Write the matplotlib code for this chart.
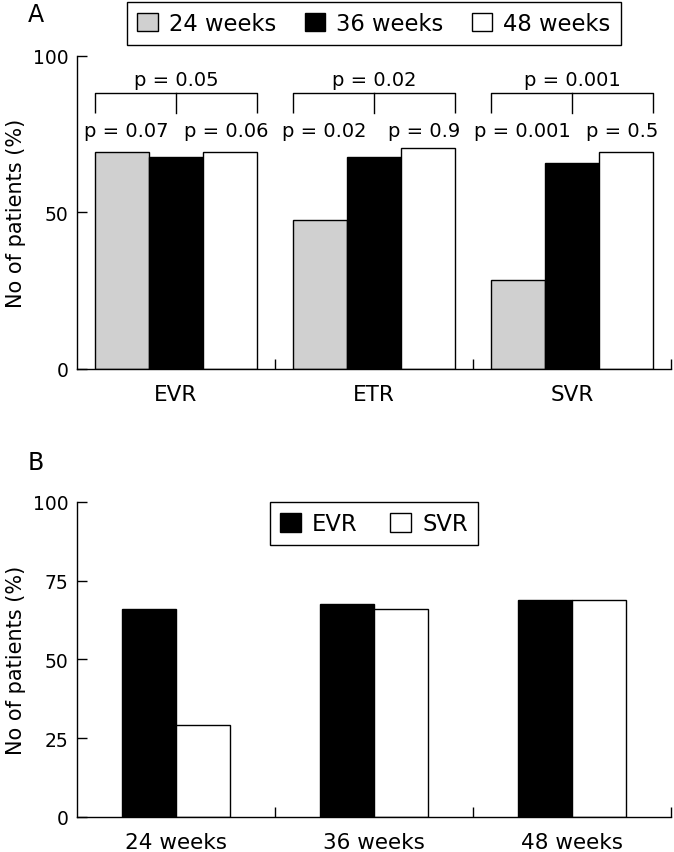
import matplotlib
matplotlib.use("Agg")
import matplotlib.pyplot as plt
import numpy as np
from matplotlib.patches import Patch

plt.rcParams['font.family'] = ['DejaVu Sans']

# ---------------- data ----------------
categories_A = ['EVR', 'ETR', 'SVR']
series_A_labels = ['24 weeks', '36 weeks', '48 weeks']
w24 = [69.1, 47.5, 28.3]
w36 = [67.7, 67.7, 65.8]
w48 = [69.1, 70.6, 69.1]
p_overall = ['p = 0.05', 'p = 0.02', 'p = 0.001']
p_24_36 = ['p = 0.07', 'p = 0.02', 'p = 0.001']
p_36_48 = ['p = 0.06', 'p = 0.9', 'p = 0.5']
yticks_A = [0, 50, 100]

categories_B = ['24 weeks', '36 weeks', '48 weeks']
series_B_labels = ['EVR', 'SVR']
evr_B = [65.9, 67.7, 69.0]
svr_B = [29.2, 65.9, 69.0]
yticks_B = [0, 25, 50, 75, 100]

# ---------------- style ----------------
GRAY = '#d0d0d0'
LW = 1.0
BW = 0.2727

fig = plt.figure(figsize=(6.74, 8.53), dpi=100)
W, H = 674, 853
def ax_rect(x0, x1, ytop, ybot):
    return [x0 / W, 1 - ybot / H, (x1 - x0) / W, (ybot - ytop) / H]

axA = fig.add_axes(ax_rect(77, 671, 56.5, 370))
axB = fig.add_axes(ax_rect(77, 671, 503, 817.7))

def style_axes(ax, yticks):
    for s in ['top', 'right']:
        ax.spines[s].set_visible(False)
    for s in ['left', 'bottom']:
        ax.spines[s].set_linewidth(LW)
    ax.set_xlim(-0.5, 2.5)
    ax.set_ylim(0, 100)
    ax.set_yticks(yticks)
    ax.tick_params(axis='y', direction='in', length=7.5, width=LW,
                   labelsize=13.5, pad=6)
    ax.set_xticks([0, 1, 2])
    ax.set_xticks([0.5, 1.5, 2.5], minor=True)
    ax.tick_params(axis='x', which='major', length=0, labelsize=15.5, pad=11)
    ax.tick_params(axis='x', which='minor', direction='in', length=7.5, width=LW)
    ax.set_ylabel('No of patients (%)', fontsize=15)
    ax.yaxis.set_label_coords(-0.086, 0.5)

# ---------------- panel A ----------------
x = np.arange(len(categories_A))
colors_A = [GRAY, 'black', 'white']
for k, (vals, c, lab) in enumerate(zip([w24, w36, w48], colors_A, series_A_labels)):
    axA.bar(x + (k - 1) * BW, vals, width=BW, color=c, edgecolor='black',
            linewidth=LW, label=lab, zorder=2)
style_axes(axA, yticks_A)
axA.set_xticklabels(categories_A)

for i in range(len(categories_A)):
    left, mid, right = i - 1.5 * BW, i, i + 1.5 * BW
    top, bot = 87.9, 81.6
    axA.plot([left, left, right, right], [bot, top, top, bot], color='black',
             lw=LW, clip_on=False, solid_capstyle='butt')
    axA.plot([mid, mid], [top, bot], color='black', lw=LW, clip_on=False)
    axA.text(mid, 90.6, p_overall[i], ha='center', va='baseline', fontsize=14)
    axA.text(mid - 0.253, 74.3, p_24_36[i], ha='center', va='baseline', fontsize=14)
    axA.text(mid + 0.253, 74.3, p_36_48[i], ha='center', va='baseline', fontsize=14)

handlesA = [Patch(facecolor=c, edgecolor='black', linewidth=LW) for c in colors_A]
legA = axA.legend(handlesA, series_A_labels, loc='lower center', ncol=3,
                  bbox_to_anchor=(0.5, 1 + 10.5 / 313.5), fontsize=16.3,
                  frameon=True, fancybox=False, edgecolor='black', framealpha=1,
                  borderaxespad=0, handlelength=0.9, handleheight=0.9,
                  handletextpad=0.5, columnspacing=1.25, borderpad=0.45)
legA.get_frame().set_linewidth(LW)

# ---------------- panel B ----------------
xb = np.arange(len(categories_B))
colors_B = ['black', 'white']
for k, (vals, c, lab) in enumerate(zip([evr_B, svr_B], colors_B, series_B_labels)):
    axB.bar(xb + (k - 0.5) * BW, vals, width=BW, color=c, edgecolor='black',
            linewidth=LW, label=lab, zorder=2)
style_axes(axB, yticks_B)
axB.set_xticklabels(categories_B)

handlesB = [Patch(facecolor=c, edgecolor='black', linewidth=LW) for c in colors_B]
legB = axB.legend(handlesB, series_B_labels, loc='upper center', ncol=2,
                  bbox_to_anchor=(0.5, 1.0), fontsize=16.3,
                  frameon=True, fancybox=False, edgecolor='black', framealpha=1,
                  borderaxespad=0, handlelength=0.9, handleheight=0.9,
                  handletextpad=0.5, columnspacing=1.45, borderpad=0.45)
legB.get_frame().set_linewidth(LW)

fig.text(28 / W, 1 - 22 / H, 'A', fontsize=17, ha='left', va='baseline')
fig.text(28 / W, 1 - 470 / H, 'B', fontsize=17, ha='left', va='baseline')

fig.savefig('out.png', dpi=100)
